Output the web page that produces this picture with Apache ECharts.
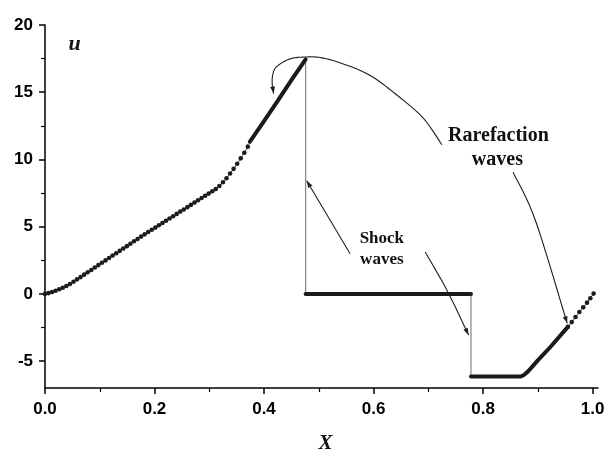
<!DOCTYPE html>
<html>
<head>
<meta charset="utf-8">
<script src="https://cdn.jsdelivr.net/npm/echarts@6/dist/echarts.min.js"></script>
<style>
  html, body { margin: 0; padding: 0; background: #fff; }
  #chart { width: 608px; height: 451px; }
</style>
</head>
<body>
<div id="chart"></div>
<script>
// Smooth part of the solution, resolved point by point (x, u)
const smoothX = [0, 0.0065, 0.013, 0.0195, 0.026, 0.0325, 0.039, 0.0455, 0.052, 0.0585,
  0.065, 0.0715, 0.078, 0.0845, 0.091, 0.0975, 0.104, 0.1105, 0.117, 0.1235,
  0.13, 0.1365, 0.143, 0.1495, 0.156, 0.1625, 0.169, 0.1755, 0.182, 0.1885,
  0.195, 0.2015, 0.208, 0.2145, 0.221, 0.2275, 0.234, 0.2405, 0.247, 0.2535,
  0.26, 0.2665, 0.273, 0.2795, 0.286, 0.2925, 0.299, 0.3055, 0.312,
  0.3185, 0.325, 0.3315, 0.338, 0.3445, 0.351, 0.3575, 0.364, 0.3705];
const smoothU = [0, 0.06, 0.14, 0.23, 0.34, 0.46, 0.59, 0.74, 0.90, 1.08,
  1.25, 1.43, 1.61, 1.78, 1.96, 2.14, 2.32, 2.49, 2.67, 2.85,
  3.02, 3.20, 3.38, 3.55, 3.73, 3.91, 4.08, 4.26, 4.43, 4.60,
  4.77, 4.93, 5.10, 5.27, 5.44, 5.61, 5.78, 5.95, 6.12, 6.28,
  6.45, 6.62, 6.79, 6.96, 7.13, 7.30, 7.46, 7.63, 7.80,
  8.02, 8.30, 8.60, 8.95, 9.30, 9.68, 10.08, 10.50, 10.95];

// Densely resolved steep rise up to the first shock
const riseX = [0.374, 0.400, 0.425, 0.450, 0.476];
const riseU = [11.30, 12.85, 14.35, 15.90, 17.45];

// Plateau between the two shocks
const plateauX = [0.476, 0.778];
const plateauU = [0, 0];

// Lower state and the rarefaction fan
const fanX = [0.778, 0.869, 0.874, 0.880, 0.888, 0.900, 0.923, 0.955];
const fanU = [-6.15, -6.15, -6.05, -5.85, -5.5, -4.95, -3.95, -2.45];

// Tail of the fan, resolved point by point
const tailX = [0.955, 0.962, 0.969, 0.976, 0.983, 0.990, 0.996, 1.002];
const tailU = [-2.45, -2.10, -1.72, -1.35, -1.00, -0.65, -0.32, 0.02];

// Shock jumps
const shock1 = [[0.476, 17.45], [0.476, 0]];
const shock2 = [[0.778, 0], [0.778, -6.15]];

// Axis ticks and labels
const xMajor = [0, 0.2, 0.4, 0.6, 0.8, 1.0];
const xMinor = [0.1, 0.3, 0.5, 0.7, 0.9];
const yMajor = [-5, 0, 5, 10, 15, 20];
const yMinor = [-2.5, 2.5, 7.5, 12.5, 17.5];

// Annotation paths (x, u); arrow tip is the first point of the arc, the last point of the others
const arcRarefaction = [[0.4175, 14.90], [0.4150, 15.60], [0.4160, 16.30], [0.4231, 16.90], [0.4474, 17.48],
  [0.4761, 17.62], [0.5023, 17.58], [0.5389, 17.19], [0.5938, 16.25], [0.6487, 14.59],
  [0.6913, 13.05], [0.725, 11.09]];
const arrowRarefaction = [[0.8549, 9.04], [0.8957, 5.46], [0.9537, -2.19]];
const arrowShockLeft = [[0.5572, 2.99], [0.478, 8.42]];
const arrowShockRight = [[0.6944, 3.11], [0.7341, 0.27], [0.7736, -3.06]];

const labelRarefaction = [[0.8281, 11.76, 'Rarefaction'], [0.8262, 9.98, 'waves']];
const labelShock = [[0.6152, 4.10, 'Shock'], [0.6152, 2.55, 'waves']];
const labelU = [0.054, 18.6, 'u'];

const zip = (xs, us) => xs.map((x, i) => [x, us[i]]);

const chart = echarts.init(document.getElementById('chart'), null, { renderer: 'canvas' });

const labelFont = { color: '#000', fontFamily: '"Liberation Sans", Arial, sans-serif', fontWeight: 'bold', fontSize: 17 };
const X_MAX = 1.01, Y_MIN = -7, Y_MAX = 20;

const dotted = (data) => ({
  type: 'line', data, symbol: 'circle', symbolSize: 4.6, showAllSymbol: true,
  lineStyle: { color: '#555', width: 1 }, itemStyle: { color: '#1c1c1c' },
  z: 3, silent: true
});
const thick = (data) => ({
  type: 'line', data, symbol: 'none',
  lineStyle: { color: '#1a1a1a', width: 4, cap: 'round', join: 'round' },
  z: 3, silent: true
});
const jump = (data) => ({
  type: 'line', data, symbol: 'none',
  lineStyle: { color: '#8c8c8c', width: 1.3 }, z: 2, silent: true
});

chart.setOption({
  animation: false,
  backgroundColor: '#fff',
  grid: { left: 45, right: 10, top: 25, bottom: 63, containLabel: false, outerBoundsMode: 'none' },
  xAxis: [{
    type: 'value', min: 0, max: X_MAX,
    name: 'X', nameLocation: 'middle', nameGap: 45,
    nameTextStyle: { color: '#111', fontFamily: '"Liberation Serif", "Times New Roman", serif', fontStyle: 'italic', fontWeight: 'bold', fontSize: 21, padding: [0, 0, 0, 8] },
    axisLine: { onZero: false, lineStyle: { color: '#000', width: 1.5 } },
    axisTick: { customValues: xMajor, length: 6, lineStyle: { color: '#000', width: 1.5 } },
    axisLabel: Object.assign({ customValues: xMajor, margin: 13, formatter: v => v.toFixed(1) }, labelFont),
    splitLine: { show: false }
  }, {
    type: 'value', min: 0, max: X_MAX, position: 'bottom', gridIndex: 0,
    axisLine: { show: false, onZero: false },
    axisTick: { customValues: xMinor, length: 4, lineStyle: { color: '#000', width: 1.2 } },
    axisLabel: { show: false }, splitLine: { show: false }
  }],
  yAxis: [{
    type: 'value', min: Y_MIN, max: Y_MAX,
    axisLine: { show: true, onZero: false, lineStyle: { color: '#000', width: 1.5 } },
    axisTick: { show: true, customValues: yMajor, length: 6, lineStyle: { color: '#000', width: 1.5 } },
    axisLabel: Object.assign({ customValues: yMajor, margin: 12, formatter: v => String(v) }, labelFont),
    splitLine: { show: false }
  }, {
    type: 'value', min: Y_MIN, max: Y_MAX, position: 'left', offset: 0, gridIndex: 0,
    axisLine: { show: false, onZero: false },
    axisTick: { show: true, customValues: yMinor, length: 4, lineStyle: { color: '#000', width: 1.2 } },
    axisLabel: { show: false }, splitLine: { show: false }
  }],
  series: [
    jump(shock1),
    jump(shock2),
    dotted(zip(smoothX, smoothU)),
    thick(zip(riseX, riseU)),
    thick(zip(plateauX, plateauU)),
    thick(zip(fanX, fanU)),
    dotted(zip(tailX, tailU))
  ]
});

// Annotations: arrows and text placed in data coordinates
const toPx = p => chart.convertToPixel({ xAxisIndex: 0, yAxisIndex: 0 }, [p[0], p[1]]);
const INK = '#1e1e1e';

// Catmull-Rom curve through the pixel control points, for the hand-drawn arrows
function spline(pts, steps) {
  if (pts.length < 3) return pts;
  const out = [];
  for (let i = 0; i < pts.length - 1; i++) {
    const p0 = pts[Math.max(0, i - 1)], p1 = pts[i], p2 = pts[i + 1], p3 = pts[Math.min(pts.length - 1, i + 2)];
    for (let s = 0; s < steps; s++) {
      const t = s / steps, t2 = t * t, t3 = t2 * t;
      out.push([0, 1].map(k => 0.5 * ((2 * p1[k]) + (-p0[k] + p2[k]) * t +
        (2 * p0[k] - 5 * p1[k] + 4 * p2[k] - p3[k]) * t2 + (-p0[k] + 3 * p1[k] - 3 * p2[k] + p3[k]) * t3)));
    }
  }
  out.push(pts[pts.length - 1]);
  return out;
}

function arrowHead(tip, from) {
  const dx = tip[0] - from[0], dy = tip[1] - from[1];
  const len = Math.hypot(dx, dy) || 1;
  const ux = dx / len, uy = dy / len;
  const L = 7, W = 2.4;
  const bx = tip[0] - ux * L, by = tip[1] - uy * L;
  return {
    type: 'polygon', silent: true, z: 10,
    shape: { points: [tip, [bx - uy * W, by + ux * W], [bx + uy * W, by - ux * W]] },
    style: { fill: INK }
  };
}

function arrow(path, tipFirst) {
  const ctrl = path.map(toPx);
  const tip = tipFirst ? ctrl[0] : ctrl[ctrl.length - 1];
  const prev = tipFirst ? ctrl[1] : ctrl[ctrl.length - 2];
  return [
    { type: 'polyline', silent: true, z: 10, shape: { points: spline(ctrl, 10) },
      style: { stroke: INK, lineWidth: 1.1, fill: null, lineJoin: 'round' } },
    arrowHead(tip, prev)
  ];
}

function texts(items, size) {
  return items.map(it => {
    const p = toPx(it);
    return {
      type: 'text', silent: true, z: 11, x: p[0], y: p[1],
      style: { text: it[2], fill: '#111', font: 'bold ' + size + 'px "Liberation Serif", "Times New Roman", serif',
        align: 'center', verticalAlign: 'middle' }
    };
  });
}

const uPos = toPx(labelU);
const graphics = [].concat(
  arrow(arcRarefaction, true),
  arrow(arrowRarefaction, false),
  arrow(arrowShockLeft, false),
  arrow(arrowShockRight, false),
  texts(labelRarefaction, 20),
  texts(labelShock, 17),
  [{
    type: 'text', silent: true, z: 11, x: uPos[0], y: uPos[1],
    style: { text: labelU[2], fill: '#111', font: 'italic bold 22px "Liberation Serif", "Times New Roman", serif',
      align: 'center', verticalAlign: 'middle' }
  }]
);
chart.setOption({ graphic: { elements: graphics } });
</script>
</body>
</html>
